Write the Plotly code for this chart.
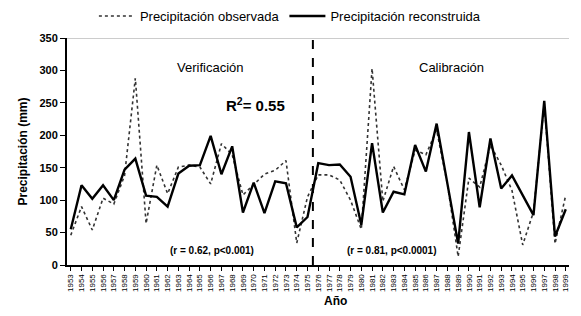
import plotly.graph_objects as go

years = list(range(1953, 2000))
observada = [46, 90, 54, 103, 94, 138, 288, 64, 154, 110, 151, 154, 151, 125, 187, 170, 108, 124,
             140, 146, 161, 34, 105,
             139, 139, 131, 100, 55, 303, 98, 152, 116, 177, 170, 208, 125, 13, 134, 120, 185,
             154, 115, 31, 82, 249, 33, 108]
reconstruida = [55, 123, 102, 123, 100, 147, 164, 107, 105, 90, 141, 153, 154, 199, 140, 183, 81, 127,
                80, 129, 126, 58, 74,
                157, 154, 155, 136, 62, 188, 81, 113, 109, 185, 144, 218, 128, 33, 205, 89, 195,
                118, 138, 107, 77, 253, 44, 86]
split_year = 1975.5
y_ticks = [0, 50, 100, 150, 200, 250, 300, 350]

FONT = "Liberation Sans, Arial, sans-serif"

fig = go.Figure()
fig.add_trace(go.Scatter(x=years, y=observada, mode="lines", name="Precipitación observada",
                         line=dict(color="#333333", width=1.6, dash="dot")))
fig.add_trace(go.Scatter(x=years, y=reconstruida, mode="lines", name="Precipitación reconstruida",
                         line=dict(color="black", width=2.4)))

fig.add_shape(type="line", x0=split_year, x1=split_year, y0=0, y1=350, xref="x", yref="y",
              line=dict(color="black", width=2, dash="dash"))
fig.add_shape(type="line", x0=0, x1=1, xref="paper", y0=350, y1=350, yref="y",
              line=dict(color="#bbbbbb", width=1.5))

ann = [
    dict(x=1965.9, y=304, text="Verificación", font=dict(size=13, color="black")),
    dict(x=1970.2, y=248, text="R<sup>2</sup>= 0.55", font=dict(size=15, color="black", weight="bold")),
    dict(x=1966.1, y=23, text="(r = 0.62, p<0.001)", font=dict(size=10, color="black", weight="bold")),
    dict(x=1988.4, y=305, text="Calibración", font=dict(size=13, color="black")),
    dict(x=1982.85, y=23, text="(r = 0.81, p<0.0001)", font=dict(size=10, color="black", weight="bold")),
]
for a in ann:
    fig.add_annotation(showarrow=False, xref="x", yref="y", **a)

fig.add_annotation(text="<b>Año</b>", xref="paper", yref="paper", x=0.534, y=-0.157,
                   xanchor="center", yanchor="middle", showarrow=False,
                   font=dict(size=12, color="black"))

# The page body adds an 8px margin on every side, so the figure is sized to fit the window.
fig.update_layout(
    width=565, height=300,
    margin=dict(l=59, r=4, t=30, b=43, autoexpand=False),
    paper_bgcolor="white", plot_bgcolor="white",
    font=dict(family=FONT, color="black"),
    showlegend=True,
    legend=dict(orientation="h", x=0.444, xanchor="center", y=1.097, yanchor="middle",
                yref="paper", font=dict(size=13), itemwidth=36, tracegroupgap=0,
                bgcolor="rgba(0,0,0,0)"),
    xaxis=dict(range=[1952.65, 1999.3], tickmode="array", tickvals=years,
               tickangle=-90, tickfont=dict(size=8), showgrid=False, zeroline=False,
               showline=True, linecolor="black", linewidth=2, ticks="outside",
               ticklen=4, tickcolor="black", automargin=False, ticklabeloverflow="allow"),
    yaxis=dict(range=[0, 350], tickvals=y_ticks, tickfont=dict(size=11, weight="bold"),
               showgrid=False, zeroline=False, showline=True, linecolor="black", linewidth=2,
               ticks="outside", ticklen=5, tickcolor="black", automargin=False,
               title=dict(text="<b>Precipitación (mm)</b>", font=dict(size=12), standoff=9)),
)

fig.write_html("out.html")
